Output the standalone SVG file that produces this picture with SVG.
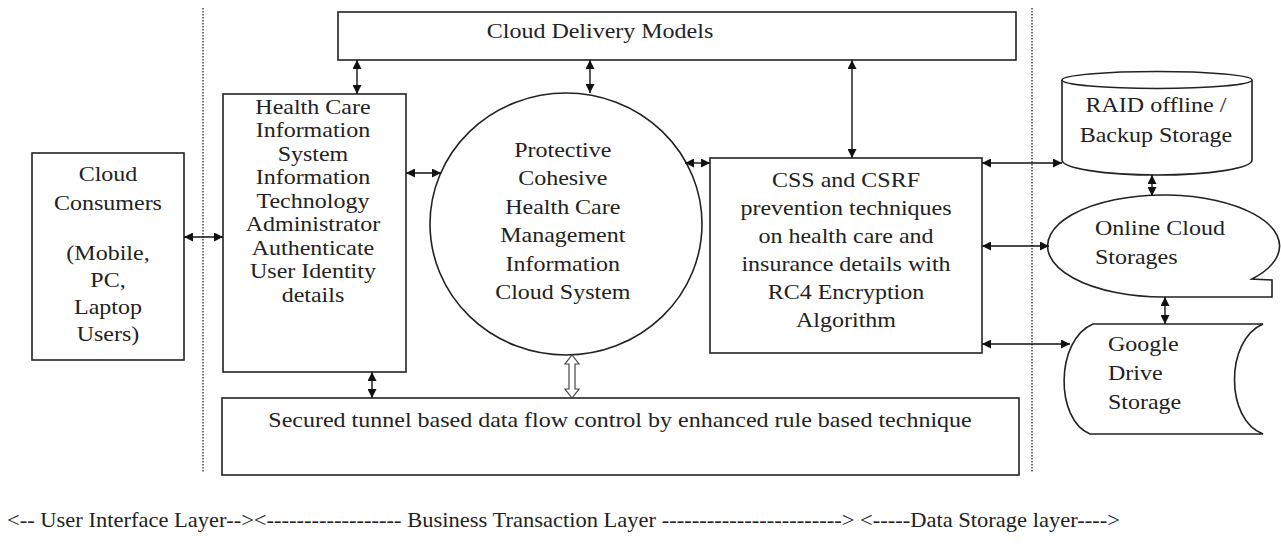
<svg xmlns="http://www.w3.org/2000/svg" width="1281" height="547" viewBox="0 0 1281 547" font-family="Liberation Serif, DejaVu Serif, serif">
<style>
.box{fill:#fff;stroke:#222;stroke-width:1.6}
.t{font-family:'Liberation Serif','DejaVu Serif',serif;font-size:20px;fill:#222}
.m{text-anchor:middle}
.dot{stroke:#444;stroke-width:1.5;stroke-dasharray:1.5 1.5;fill:none}
.c{stroke:#111;stroke-width:1.4;fill:none;marker-start:url(#ah);marker-end:url(#ah)}
</style>
<defs>
<marker id="ah" viewBox="0 0 10 10" refX="10" refY="5" markerWidth="9" markerHeight="9" markerUnits="userSpaceOnUse" orient="auto-start-reverse">
<path d="M0,0 L10,5 L0,10 z" fill="#111"/>
</marker>
</defs>
<rect width="1281" height="547" fill="#fff"/>
<g id="layers">
<line class="dot" x1="203" y1="8" x2="203" y2="472"/>
<line class="dot" x1="1032" y1="8" x2="1032" y2="472"/>
<g transform="scale(1.2 1)"><text class="t" x="5.83" y="527" textLength="927.5" lengthAdjust="spacingAndGlyphs">&lt;-- User Interface Layer--&gt;&lt;------------------ Business Transaction Layer ------------------------&gt; &lt;-----Data Storage layer----&gt;</text></g>
</g>
<g id="cdm">
<rect class="box" x="338" y="12" width="678" height="48"/>
<g transform="scale(1.2 1)"><text class="t m" x="500" y="38">Cloud  Delivery Models</text></g>
</g>
<g id="consumers">
<rect class="box" x="32" y="153" width="152" height="207"/>
<g transform="scale(1.2 1)">
<text class="t m" x="90" y="181">Cloud</text>
<text class="t m" x="90" y="210">Consumers</text>
<text class="t m" x="90" y="260">(Mobile,</text>
<text class="t m" x="90" y="287">PC,</text>
<text class="t m" x="90" y="314">Laptop</text>
<text class="t m" x="90" y="341">Users)</text>
</g>
</g>
<g id="hcis">
<rect class="box" x="223" y="94" width="183" height="278"/>
<g transform="scale(1.2 1)">
<text class="t m" x="260.8" y="114">Health Care</text>
<text class="t m" x="260.8" y="137.5">Information</text>
<text class="t m" x="260.8" y="161">System</text>
<text class="t m" x="260.8" y="184.5">Information</text>
<text class="t m" x="260.8" y="208">Technology</text>
<text class="t m" x="260.8" y="231.5">Administrator</text>
<text class="t m" x="260.8" y="255">Authenticate</text>
<text class="t m" x="260.8" y="278.5">User Identity</text>
<text class="t m" x="260.8" y="302">details</text>
</g>
</g>
<g id="core">
<ellipse class="box" cx="566" cy="224" rx="136" ry="131"/>
<g transform="scale(1.2 1)">
<text class="t m" x="469" y="157">Protective</text>
<text class="t m" x="469" y="185">Cohesive</text>
<text class="t m" x="469" y="214">Health Care</text>
<text class="t m" x="469" y="242">Management</text>
<text class="t m" x="469" y="271">Information</text>
<text class="t m" x="469" y="299">Cloud System</text>
</g>
</g>
<g id="css">
<rect class="box" x="710" y="158" width="272" height="195"/>
<g transform="scale(1.2 1)">
<text class="t m" x="705" y="187">CSS and CSRF</text>
<text class="t m" x="705" y="215">prevention techniques</text>
<text class="t m" x="705" y="243">on health care and</text>
<text class="t m" x="705" y="271">insurance details with</text>
<text class="t m" x="705" y="299">RC4 Encryption</text>
<text class="t m" x="705" y="327">Algorithm</text>
</g>
</g>
<g id="tunnel">
<rect class="box" x="222" y="398" width="797" height="77"/>
<g transform="scale(1.2 1)"><text class="t m" x="516.7" y="427">Secured tunnel based data flow control by enhanced rule based technique</text></g>
</g>
<g id="raid">
<path class="box" d="M1062,80 L1062,160 A95,15 0 0 0 1252,160 L1252,80"/>
<ellipse class="box" cx="1157" cy="80" rx="95" ry="8.5"/>
<g transform="scale(1.2 1)">
<text class="t m" x="963.3" y="112">RAID offline /</text>
<text class="t m" x="963.3" y="142">Backup Storage</text>
</g>
</g>
<g id="online">
<path class="box" d="M1164,297 A116,51 0 1 1 1252,279 L1272,280 L1272,297 Z"/>
<g transform="scale(1.2 1)">
<text class="t" x="912.5" y="235">Online  Cloud</text>
<text class="t" x="912.5" y="264">Storages</text>
</g>
</g>
<g id="gdrive">
<path class="box" d="M1093,324 L1263,324 C1225,340 1225,420 1263,434 L1090,434 C1055,420 1055,340 1093,324 Z"/>
<g transform="scale(1.2 1)">
<text class="t" x="923.3" y="351">Google</text>
<text class="t" x="923.3" y="380">Drive</text>
<text class="t" x="923.3" y="409">Storage</text>
</g>
</g>
<g id="connectors">
<line class="c" x1="184" y1="237" x2="223" y2="237"/>
<line class="c" x1="406" y1="173" x2="441" y2="173"/>
<line class="c" x1="685" y1="163" x2="710" y2="163"/>
<line class="c" x1="357" y1="60" x2="357" y2="94"/>
<line class="c" x1="590" y1="60" x2="590" y2="93"/>
<line class="c" x1="852" y1="60" x2="852" y2="158"/>
<line class="c" x1="372" y1="372" x2="372" y2="398"/>
<polygon fill="#fff" stroke="#444" stroke-width="1.2" points="572,355 579,364 575,364 575,389 579,389 572,398 565,389 569,389 569,364 565,364"/>
<line class="c" x1="982" y1="163" x2="1062" y2="163"/>
<line class="c" x1="982" y1="246" x2="1049" y2="246"/>
<line class="c" x1="982" y1="344" x2="1070" y2="344"/>
<line class="c" x1="1152" y1="175" x2="1152" y2="196"/>
<line class="c" x1="1165" y1="297" x2="1165" y2="324"/>
</g>
</svg>
